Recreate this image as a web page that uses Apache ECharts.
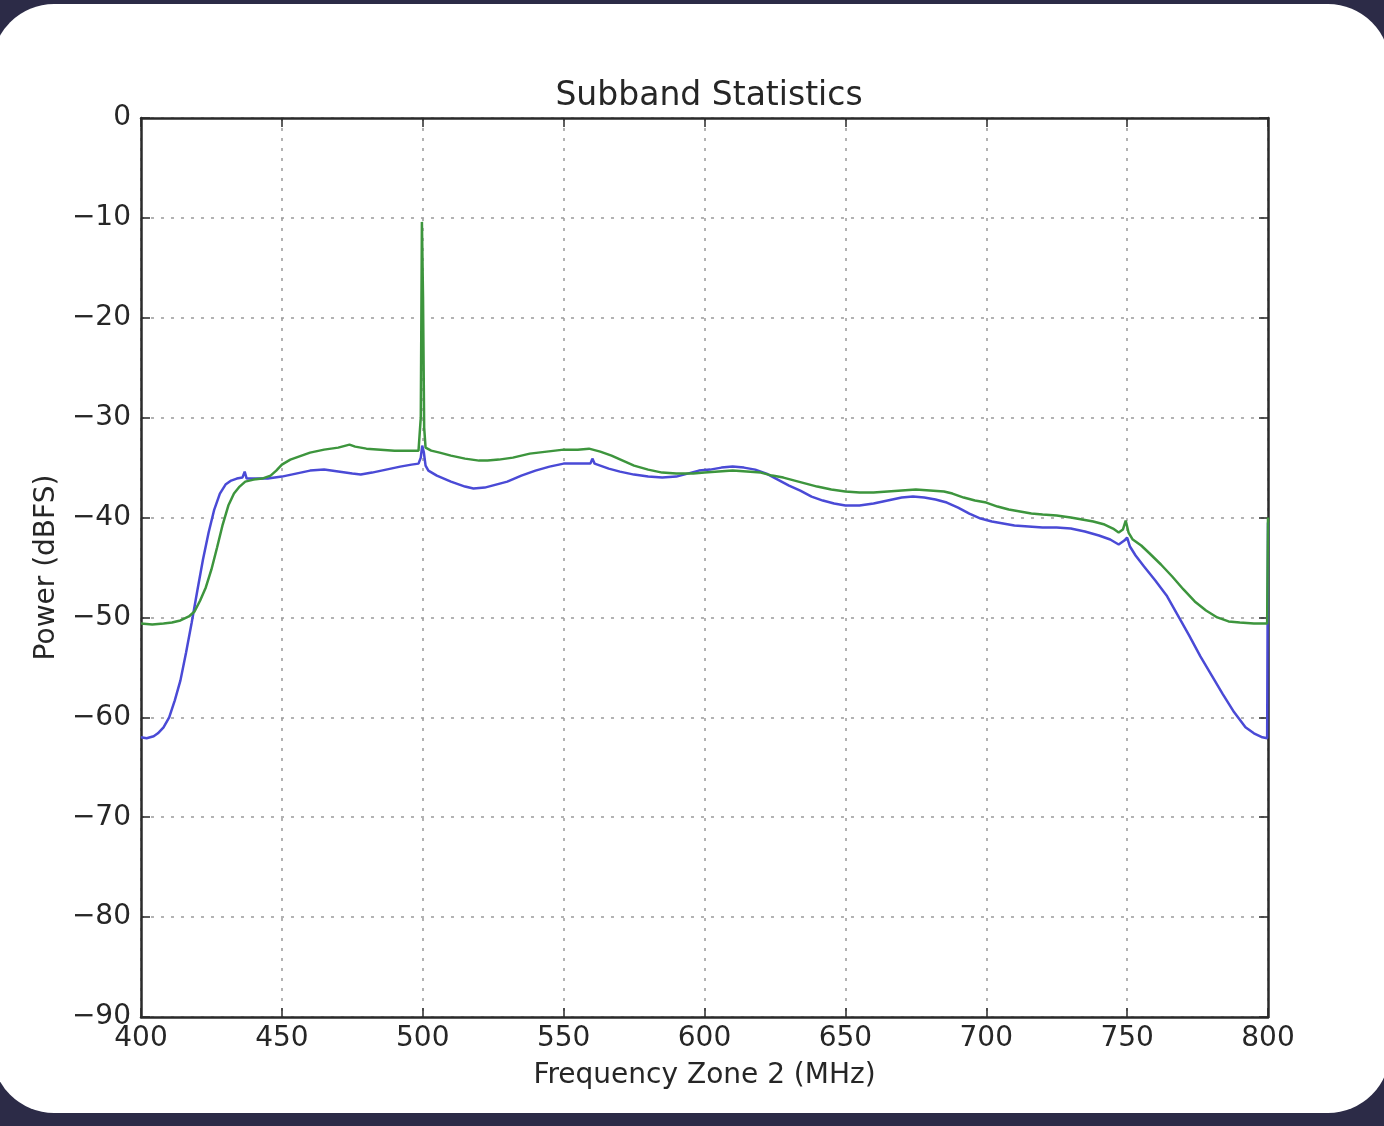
<!DOCTYPE html>
<html>
<head>
<meta charset="utf-8">
<script src="https://cdn.jsdelivr.net/npm/echarts@6/dist/echarts.min.js"></script>
<style>
  html, body { margin: 0; padding: 0; width: 1384px; height: 1126px; overflow: hidden; background: #2c2b47; }
  #card { position: absolute; left: -8px; top: 4px; width: 1398px; height: 1109px; background: #ffffff; border-radius: 62px; }
  #chart { position: absolute; left: 0; top: 0; width: 1384px; height: 1126px; }
</style>
</head>
<body>
<div id="card"></div>
<div id="chart"></div>
<script>
// ---- Data ----
const chartTitle = 'Subband Statistics';
const xAxisName = 'Frequency Zone 2 (MHz)';
const yAxisName = 'Power (dBFS)';
const xTicks = [400, 450, 500, 550, 600, 650, 700, 750, 800];
const yTicks = [0, -10, -20, -30, -40, -50, -60, -70, -80, -90];

const blueFreq = [400, 402, 404.5, 406, 408, 410, 412, 414, 416, 418, 420, 422, 424, 426, 428, 430, 432, 434, 436, 436.8, 437.5,
  440, 445, 450, 455, 460, 465, 470, 475, 478, 482, 487, 492, 496, 498.5, 499.3, 499.8, 500.4, 501, 502, 505, 510, 515, 518,
  522, 526, 530, 535, 540, 545, 550, 555, 559.5, 560.2, 561, 563, 566, 570, 575, 580, 585, 590, 594, 598, 602, 606, 610, 614,
  618, 622, 626, 630, 634, 638, 642, 646, 650, 655, 660, 665, 670, 674, 678, 682, 686, 690, 694, 698, 702, 706, 710, 715, 720,
  725, 730, 735, 740, 744, 747, 749, 750, 751, 753, 756, 760, 764, 768, 772, 776, 780, 784, 788, 792, 795, 798, 799.7, 800];
const bluePower = [-62.0, -62.1, -61.9, -61.6, -61.0, -60.0, -58.3, -56.3, -53.5, -50.5, -47.3, -44.2, -41.5, -39.2, -37.6, -36.7, -36.3, -36.1, -36.0, -35.4, -36.1,
  -36.1, -36.1, -35.9, -35.6, -35.3, -35.2, -35.4, -35.6, -35.7, -35.5, -35.2, -34.9, -34.7, -34.6, -34.0, -32.8, -33.5, -34.8, -35.3, -35.8, -36.4, -36.9, -37.1,
  -37.0, -36.7, -36.4, -35.8, -35.3, -34.9, -34.6, -34.6, -34.6, -34.1, -34.6, -34.8, -35.1, -35.4, -35.7, -35.9, -36.0, -35.9, -35.6, -35.3, -35.2, -35.0, -34.9, -35.0,
  -35.2, -35.6, -36.2, -36.8, -37.3, -37.9, -38.3, -38.6, -38.8, -38.8, -38.6, -38.3, -38.0, -37.9, -38.0, -38.2, -38.5, -39.0, -39.6, -40.1, -40.4, -40.6, -40.8, -40.9, -41.0,
  -41.0, -41.1, -41.4, -41.8, -42.2, -42.7, -42.3, -42.0, -42.9, -43.8, -44.9, -46.3, -47.8, -49.8, -51.8, -53.9, -55.8, -57.7, -59.5, -61.0, -61.6, -62.0, -62.1, -40.5];

const greenFreq = [400, 404, 408, 411, 414, 417, 419, 421, 423, 425, 427, 429, 431, 433, 435, 437, 440, 443, 446, 448, 450, 453,
  456, 460, 465, 470, 474, 476, 480, 485, 490, 495, 498.5, 499.3, 499.7, 500.1, 500.5, 501, 503, 506, 510, 515, 520, 523, 527,
  532, 538, 544, 550, 555, 559, 563, 567, 571, 575, 580, 585, 590, 596, 600, 605, 610, 615, 620, 624, 628, 632, 636, 640, 645,
  650, 655, 660, 665, 670, 675, 680, 685, 688, 692, 696, 700, 704, 708, 712, 716, 720, 725, 730, 734, 738, 742, 745, 747, 748.5,
  749.5, 750.5, 752, 755, 758, 762, 766, 770, 774, 778, 782, 786, 790, 795, 799.7, 800];
const greenPower = [-50.6, -50.7, -50.6, -50.5, -50.3, -49.9, -49.4, -48.3, -47.0, -45.2, -43.0, -40.7, -38.8, -37.6, -36.9, -36.4, -36.2, -36.1, -35.8, -35.3, -34.7, -34.2,
  -33.9, -33.5, -33.2, -33.0, -32.7, -32.9, -33.1, -33.2, -33.3, -33.3, -33.3, -30.0, -10.4, -18.0, -31.0, -33.0, -33.3, -33.5, -33.8, -34.1, -34.3, -34.3, -34.2,
  -34.0, -33.6, -33.4, -33.2, -33.2, -33.1, -33.4, -33.8, -34.3, -34.8, -35.2, -35.5, -35.6, -35.6, -35.5, -35.4, -35.3, -35.4, -35.5, -35.8, -36.0, -36.3, -36.6, -36.9, -37.2,
  -37.4, -37.5, -37.5, -37.4, -37.3, -37.2, -37.3, -37.4, -37.6, -38.0, -38.3, -38.5, -38.9, -39.2, -39.4, -39.6, -39.7, -39.8, -40.0, -40.2, -40.4, -40.7, -41.1, -41.5, -41.2,
  -40.3, -41.5, -42.2, -42.8, -43.6, -44.7, -45.9, -47.2, -48.4, -49.3, -50.0, -50.4, -50.5, -50.6, -50.6, -40.0];

// ---- Chart ----
const FONT = 'DejaVu Sans';
const TXT = '#262626';
const fmtY = v => (v < 0 ? '\u2212' + Math.abs(v) : String(v));
const gridLine = { show: true, lineStyle: { color: '#9a9a9a', width: 1.5, type: [3, 7] } };
const axisLine = { show: true, onZero: false, lineStyle: { color: '#2a2a2a', width: 2.5 } };
const tickIn = { show: true, inside: true, length: 9, lineStyle: { color: '#2a2a2a', width: 1.5 } };

const chart = echarts.init(document.getElementById('chart'), null, { renderer: 'canvas' });
chart.setOption({
  animation: false,
  backgroundColor: 'transparent',
  title: {
    text: chartTitle, left: 704, top: 75, textAlign: 'center',
    textStyle: { fontFamily: FONT, fontSize: 33, fontWeight: 'normal', color: TXT }
  },
  grid: { left: 141, top: 118, width: 1127, height: 899, show: false },
  xAxis: [{
    type: 'value', min: xTicks[0], max: xTicks[xTicks.length - 1], interval: 50, position: 'bottom',
    name: xAxisName, nameLocation: 'middle', nameGap: 45,
    nameTextStyle: { fontFamily: FONT, fontSize: 28, color: TXT },
    axisLabel: { fontFamily: FONT, fontSize: 28, color: TXT, margin: 8 },
    axisLine: axisLine, axisTick: tickIn, splitLine: gridLine
  }, {
    type: 'value', min: xTicks[0], max: xTicks[xTicks.length - 1], interval: 50, position: 'top',
    axisLabel: { show: false }, axisLine: axisLine, axisTick: tickIn, splitLine: { show: false }
  }],
  yAxis: [{
    type: 'value', min: yTicks[yTicks.length - 1], max: yTicks[0], interval: 10, position: 'left',
    name: yAxisName, nameLocation: 'middle', nameGap: 80, nameRotate: 90,
    nameTextStyle: { fontFamily: FONT, fontSize: 28, color: TXT },
    axisLabel: { fontFamily: FONT, fontSize: 28, color: TXT, margin: 10, formatter: fmtY },
    axisLine: axisLine, axisTick: tickIn, splitLine: gridLine
  }, {
    type: 'value', min: yTicks[yTicks.length - 1], max: yTicks[0], interval: 10, position: 'right',
    axisLabel: { show: false }, axisLine: axisLine, axisTick: tickIn, splitLine: { show: false }
  }],
  series: [{
    type: 'line', name: 'blue', xAxisIndex: 0, yAxisIndex: 0, showSymbol: false,
    lineStyle: { color: '#4a4ad6', width: 2.5 },
    data: blueFreq.map((f, i) => [f, bluePower[i]])
  }, {
    type: 'line', name: 'green', xAxisIndex: 0, yAxisIndex: 0, showSymbol: false,
    lineStyle: { color: '#3d953d', width: 2.5 },
    data: greenFreq.map((f, i) => [f, greenPower[i]])
  }]
});
</script>
</body>
</html>
